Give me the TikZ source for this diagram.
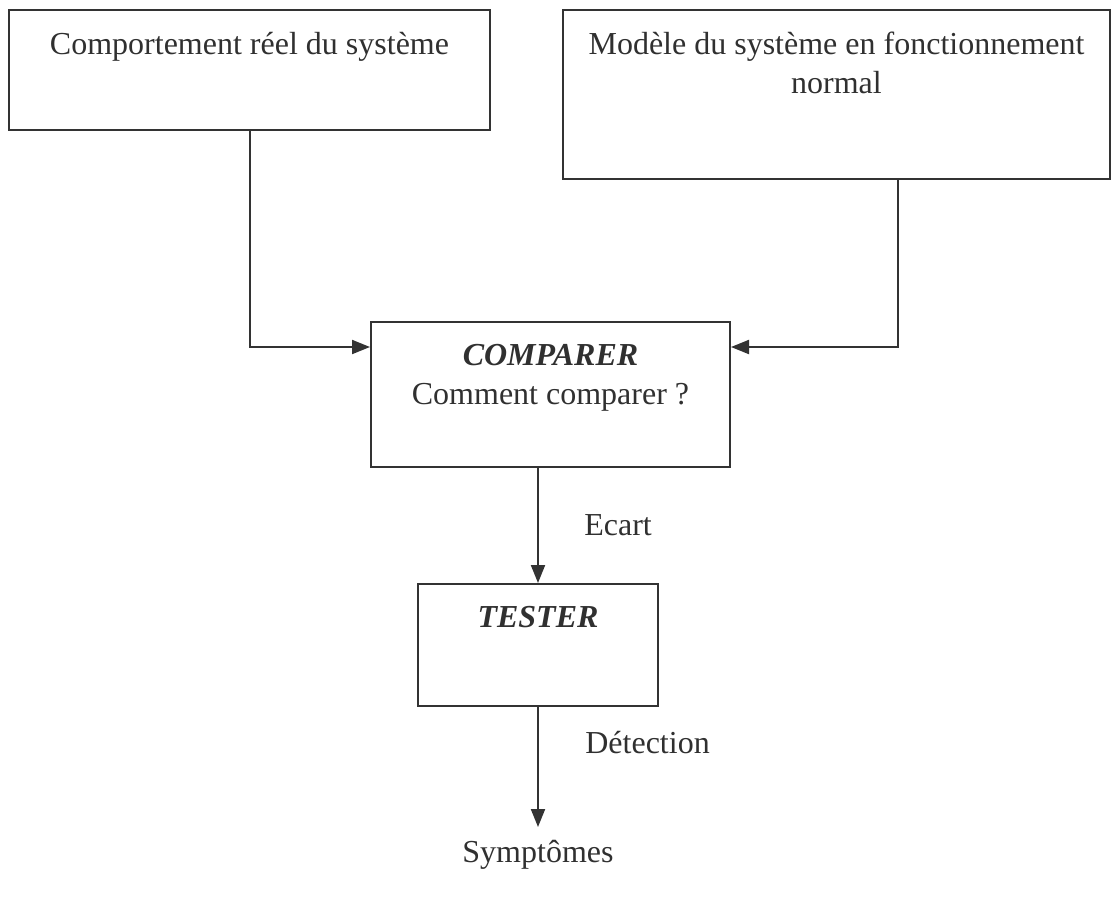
\documentclass[tikz,border=0pt]{standalone}
\usepackage{fontspec}
\setmainfont{Liberation Serif}
\usetikzlibrary{arrows.meta}

\definecolor{trait}{HTML}{333333}
\definecolor{encre}{HTML}{303030}

\begin{document}
\begin{tikzpicture}[x=1pt,y=-1pt,
  every node/.style={font=\fontsize{32}{39}\selectfont,text=encre},
  boite/.style={draw=trait,line width=2pt,rectangle,inner sep=0pt},
  titre/.style={anchor=north,align=center,inner sep=0pt,yshift=-23pt},
  fleche/.style={draw=trait,line width=2pt,-{Triangle[length=18pt,width=14pt]}}]

\useasboundingbox (0,0) rectangle (1112,898);

% Boxes
\node[boite,minimum width=481pt,minimum height=120pt,
  label={[titre]north:Comportement réel du système}] (reel) at (249.5,70) {};
\node[boite,minimum width=547pt,minimum height=169pt,
  label={[titre]north:Modèle du système en fonctionnement\\normal}] (modele) at (836.5,94.5) {};
\node[boite,minimum width=359pt,minimum height=145pt,
  label={[titre]north:\textbf{\textit{COMPARER}}\\Comment comparer ?}] (comparer) at (550.5,394.5) {};
\node[boite,minimum width=240pt,minimum height=122pt,
  label={[titre]north:\textbf{\textit{TESTER}}}] (tester) at (538,645) {};

% Output text
\node (symptomes) at (538,855) {Symptômes};

% Connection points
\coordinate (g) at (250,347);
\coordinate (d) at (898,347);
\coordinate (fin) at (538,827);

% Arrows
\draw[fleche] (reel.south -| g) |- (comparer.west |- g);
\draw[fleche] (modele.south -| d) |- (comparer.east |- d);
\draw[fleche] (comparer.south -| tester) -- (tester.north)
  node[pos=0.5,right=42pt] (ecart) {Ecart};
\draw[fleche] (tester.south) -- (fin)
  node[pos=0.3,right=43pt] (detection) {Détection};
\end{tikzpicture}
\end{document}
